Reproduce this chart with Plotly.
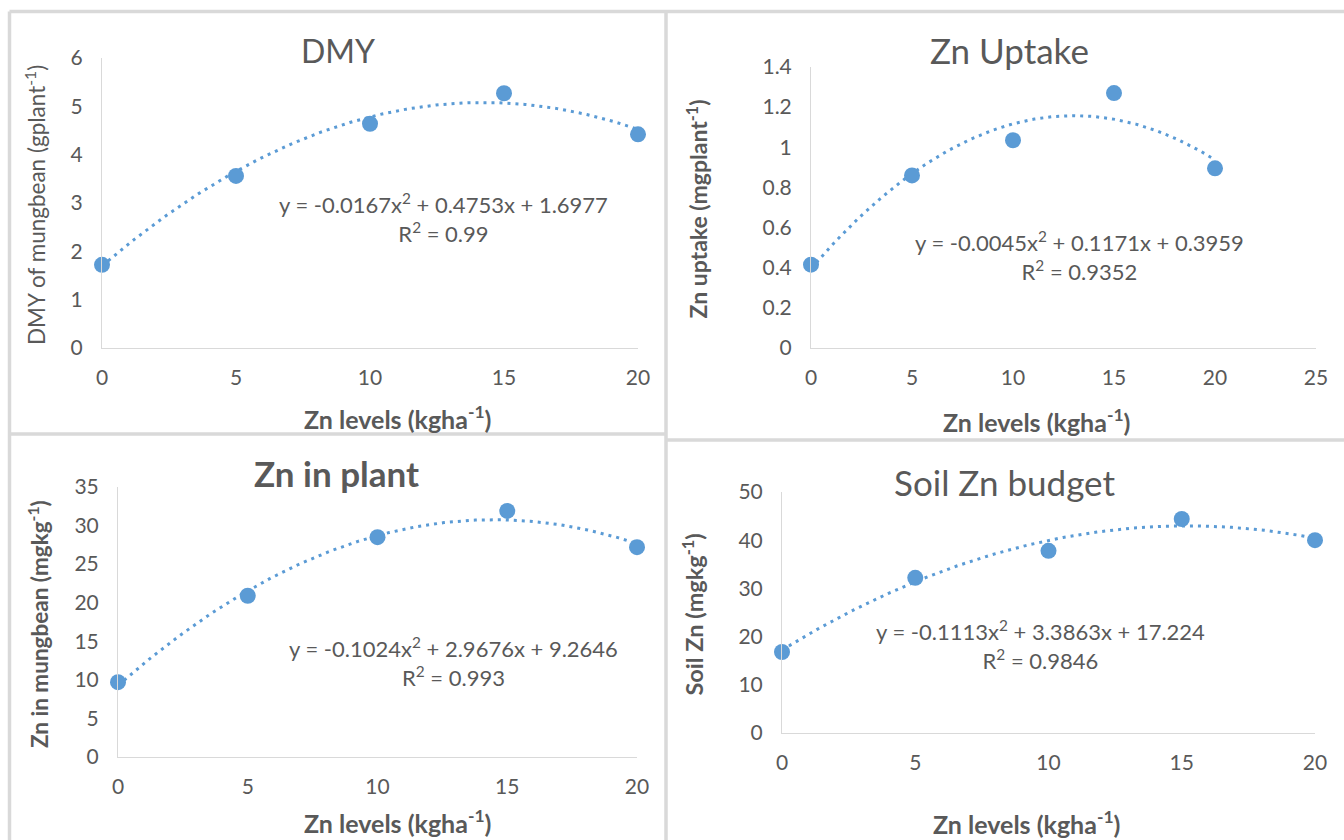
import numpy as np
import plotly.graph_objects as go

# ---------------- data ----------------
zn_levels = [0, 5, 10, 15, 20]

dmy = [1.72, 3.56, 4.64, 5.27, 4.42]
dmy_coef = [-0.0167, 0.4753, 1.6977]

uptake = [0.415, 0.86, 1.035, 1.27, 0.895]
uptake_coef = [-0.0045, 0.1171, 0.3959]

zn_plant = [9.7, 20.9, 28.5, 31.9, 27.2]
zn_plant_coef = [-0.1024, 2.9676, 9.2646]

soil_zn = [16.8, 32.2, 37.8, 44.4, 40.0]
soil_zn_coef = [-0.1113, 3.3863, 17.224]

titles = ["DMY", "Zn Uptake", "<b>Zn in plant</b>", "Soil Zn budget"]
y_titles = ["DMY of mungbean (gplant<sup>-1</sup>)",
            "<b>Zn uptake (mgplant<sup>-1</sup>)</b>",
            "<b>Zn in mungbean (mgkg<sup>-1</sup>)</b>",
            "<b>Soil Zn (mgkg<sup>-1</sup>)</b>"]
x_title = "<b>Zn levels (kgha<sup>-1</sup>)</b>"
equations = ["y = -0.0167x<sup>2</sup> + 0.4753x + 1.6977<br>R<sup>2</sup> = 0.99",
             "y = -0.0045x<sup>2</sup> + 0.1171x + 0.3959<br>R<sup>2</sup> = 0.9352",
             "y = -0.1024x<sup>2</sup> + 2.9676x + 9.2646<br>R<sup>2</sup> = 0.993",
             "y = -0.1113x<sup>2</sup> + 3.3863x + 17.224<br>R<sup>2</sup> = 0.9846"]

# ---------------- layout helpers ----------------
W, H = 1344, 840
BLUE = "#5B9BD5"
GREY_TXT = "#595959"
AXIS_GREY = "#D9D9D9"
FONT = "Lato, Open Sans, sans-serif"

def px(x):
    return x / W

def py(y):
    return 1 - y / H

panels = [
    dict(x0=102, x1=638, yb=348, yt=58, xr=[0, 20], yr=[0, 6], ydt=1, xdt=5,
         data=dmy, coef=dmy_coef, title_xy=(338, 50), title_size=32,
         ytitle_x=35, ytitle_size=22.5,
         xtitle_xy=(397, 417), xtitle_anchor="middle", eq_xy=(443, 218)),
    dict(x0=811, x1=1316, yb=348, yt=67, xr=[0, 25], yr=[0, 1.4], ydt=0.2, xdt=5,
         data=uptake, coef=uptake_coef, title_xy=(1009, 50), title_size=35,
         ytitle_x=697, ytitle_size=23,
         xtitle_xy=(1036, 420), xtitle_anchor="middle", eq_xy=(1079, 256)),
    dict(x0=118, x1=637, yb=757, yt=487, xr=[0, 20], yr=[0, 35], ydt=5, xdt=5,
         data=zn_plant, coef=zn_plant_coef, title_xy=(336, 473), title_size=35,
         ytitle_x=38, ytitle_size=22.5,
         xtitle_xy=(397, 840), xtitle_anchor="bottom", eq_xy=(453, 662)),
    dict(x0=782, x1=1315, yb=733, yt=492, xr=[0, 20], yr=[0, 50], ydt=10, xdt=5,
         data=soil_zn, coef=soil_zn_coef, title_xy=(1005, 482), title_size=35,
         ytitle_x=693, ytitle_size=23.5,
         xtitle_xy=(1026, 841), xtitle_anchor="bottom", eq_xy=(1040, 645)),
]

fig = go.Figure()
annotations = []

for i, p in enumerate(panels, start=1):
    xa = "x" if i == 1 else f"x{i}"
    ya = "y" if i == 1 else f"y{i}"
    # trendline drawn from the printed polynomial coefficients
    xt = np.linspace(0, 20, 200)
    a, b, c = p["coef"]
    yt = a * xt ** 2 + b * xt + c
    fig.add_trace(go.Scatter(x=xt, y=yt, mode="lines", xaxis=xa, yaxis=ya,
                             line=dict(color=BLUE, width=3, dash="3px,5px"),
                             hoverinfo="skip", showlegend=False))
    fig.add_trace(go.Scatter(x=zn_levels, y=p["data"], mode="markers", xaxis=xa, yaxis=ya,
                             marker=dict(color=BLUE, size=16), cliponaxis=False,
                             showlegend=False))
    axis_common = dict(showgrid=False, zeroline=False, showline=True, linecolor=AXIS_GREY,
                       linewidth=1, ticks="", automargin=False,
                       tickfont=dict(family=FONT, size=21, color=GREY_TXT))
    fig.update_layout(**{
        ("xaxis" if i == 1 else f"xaxis{i}"): dict(
            domain=[px(p["x0"]), px(p["x1"])], range=p["xr"], dtick=p["xdt"], tick0=0,
            anchor=ya, ticklabelstandoff=11, **axis_common),
        ("yaxis" if i == 1 else f"yaxis{i}"): dict(
            domain=[py(p["yb"]), py(p["yt"])], range=p["yr"], dtick=p["ydt"], tick0=0,
            anchor=xa, ticklabelstandoff=14, **axis_common),
    })
    tx, ty = p["title_xy"]
    annotations.append(dict(text=titles[i - 1], x=px(tx), y=py(ty), xref="paper", yref="paper",
                            showarrow=False, xanchor="center", yanchor="middle",
                            font=dict(family=FONT, size=p["title_size"], color=GREY_TXT)))
    annotations.append(dict(text=y_titles[i - 1], x=px(p["ytitle_x"]),
                            y=py((p["yb"] + p["yt"]) / 2 + 2), xref="paper", yref="paper",
                            showarrow=False, textangle=-90, xanchor="center", yanchor="middle",
                            font=dict(family=FONT, size=p["ytitle_size"], color=GREY_TXT)))
    xx, xy = p["xtitle_xy"]
    annotations.append(dict(text=x_title, x=px(xx), y=py(xy), xref="paper", yref="paper",
                            showarrow=False, xanchor="center", yanchor=p["xtitle_anchor"],
                            font=dict(family=FONT, size=25, color=GREY_TXT)))
    ex, ey = p["eq_xy"]
    annotations.append(dict(text=equations[i - 1], x=px(ex), y=py(ey), xref="paper", yref="paper",
                            showarrow=False, xanchor="center", yanchor="middle", align="center",
                            font=dict(family=FONT, size=22, color=GREY_TXT)))

border = dict(type="line", xref="paper", yref="paper", line=dict(color="#D9D9D9", width=3.5))
shapes = [
    dict(border, x0=px(9.5), x1=px(1344), y0=py(11.5), y1=py(11.5)),
    dict(border, x0=px(9.5), x1=px(9.5), y0=py(11.5), y1=py(840)),
    dict(border, x0=px(666), x1=px(666), y0=py(11.5), y1=py(840)),
    dict(border, x0=px(9.5), x1=px(666), y0=py(434), y1=py(434)),
    dict(border, x0=px(666), x1=px(1344), y0=py(440), y1=py(440)),
]

fig.update_layout(width=W, height=H, margin=dict(l=0, r=0, t=0, b=0, autoexpand=False),
                  paper_bgcolor="white", plot_bgcolor="white",
                  annotations=annotations, shapes=shapes, showlegend=False,
                  font=dict(family=FONT, color=GREY_TXT))

fig.write_html("out.html", config={"displayModeBar": False},
               post_script="document.body.style.margin='0';"
                           "document.body.style.overflow='hidden';")
